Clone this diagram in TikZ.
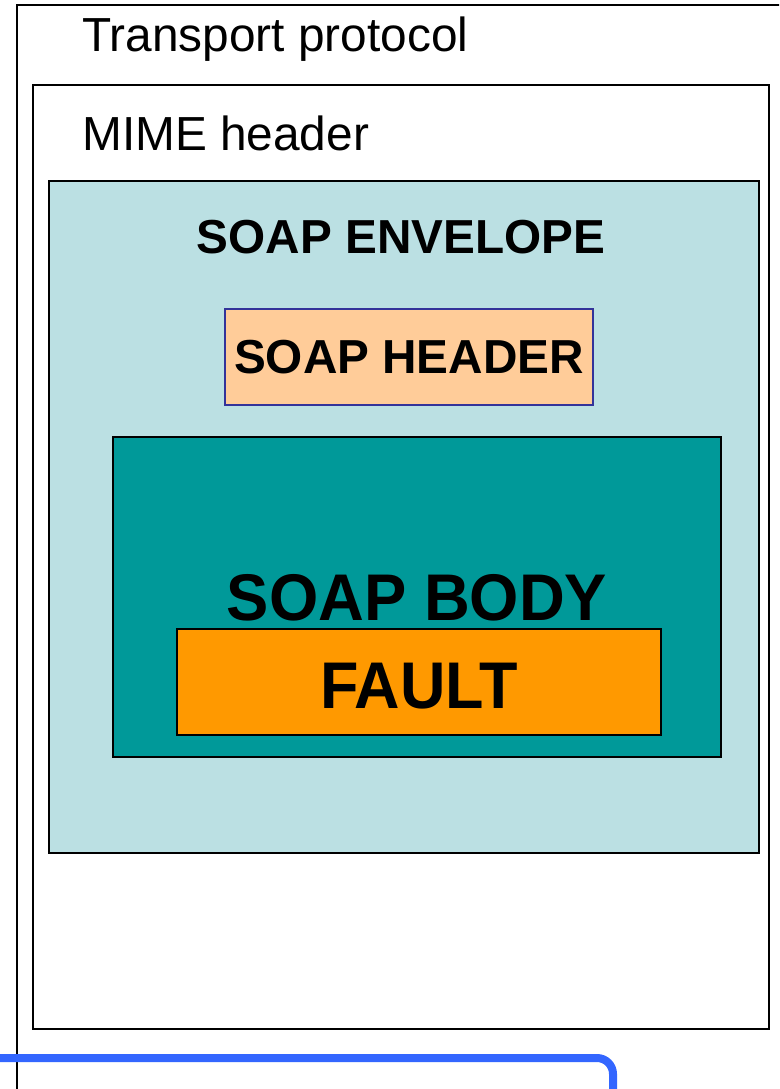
\documentclass[tikz,border=0pt]{standalone}
\usepackage{fontspec}
\setmainfont{Liberation Sans}
\definecolor{envfill}{HTML}{BBE0E3}
\definecolor{bodyfill}{HTML}{009999}
\definecolor{faultfill}{HTML}{FF9900}
\definecolor{hdrfill}{HTML}{FFCC99}
\definecolor{hdrline}{HTML}{333399}
\definecolor{blueline}{HTML}{3366FF}
\tikzset{
  frame/.style={draw=black, line width=2pt},
  plainlabel/.style={inner sep=0pt, anchor=base west, font=\fontsize{47.8}{56}\selectfont},
  boldlabel/.style={inner sep=0pt, anchor=base, font=\fontsize{47.7}{56}\selectfont\bfseries},
  biglabel/.style={inner sep=0pt, anchor=base, font=\fontsize{66}{78}\selectfont\bfseries},
}
\begin{document}
\begin{tikzpicture}[x=1pt,y=-1pt]
\useasboundingbox (0,0) rectangle (779,1089);
\clip (0,0) rectangle (779,1089);
% outer transport frame (extends beyond picture)
\draw[frame] (17,1100) -- (17,5) -- (800,5);
\node[plainlabel] (transport) at (82,52) {Transport protocol};
% MIME header frame
\draw[frame, fill=white] (33,85) rectangle (769,1029);
\node[plainlabel] (mime) at (82,150) {MIME header};
% SOAP envelope
\draw[draw=black, line width=1.5pt, fill=envfill] (49,181) rectangle (759,853);
\node[boldlabel] (envelope) at (401,253) {SOAP ENVELOPE};
% SOAP header
\draw[draw=hdrline, line width=1.5pt, fill=hdrfill] (225,309) rectangle (593,405);
\node[boldlabel] (header) at (409,373) {SOAP HEADER};
% SOAP body
\draw[draw=black, line width=1.5pt, fill=bodyfill] (113,437) rectangle (721,757);
\node[biglabel] (body) at (417,620) {\scalebox{0.96}[1]{SOAP BODY}};
% Fault
\draw[draw=black, line width=1.5pt, fill=faultfill] (177,629) rectangle (661,735);
\node[biglabel] (fault) at (419,708) {\scalebox{0.953}[1]{FAULT}};
% blue rounded frame at bottom
\draw[draw=blueline, line width=8pt, rounded corners=16pt] (-10,1058) -- (613,1058) -- (613,1110);
\end{tikzpicture}
\end{document}
